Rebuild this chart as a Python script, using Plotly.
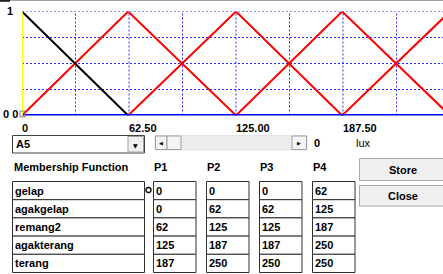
import plotly.graph_objects as go

# ---------------- data ----------------
names = ["gelap", "agakgelap", "remang2", "agakterang", "terang"]
p1 = [0, 0, 62, 125, 187]
p2 = [0, 62, 125, 187, 250]
p3 = [0, 62, 125, 187, 250]
p4 = [62, 125, 187, 250, 250]
line_colors = ["#000000", "#ff0000", "#ff0000", "#ff0000", "#ff0000"]
x_tick_vals = [0, 62.5, 125, 187.5, 250]
x_tick_text = ["0", "62.50", "125.00", "187.50", "250.00"]
x_grid_vals = [0, 31.25, 62.5, 93.75, 125, 156.25, 187.5, 218.75, 250]
y_grid_vals = [0.25, 0.5, 0.75, 1.0]
combo_value = "A5"
slider_value = "0"
unit_label = "lux"
col_headers = ["P1", "P2", "P3", "P4"]

W, H = 443, 274
FONT = "Liberation Sans"


def px(x):
    return x / W


def py(y):
    return 1 - y / H


fig = go.Figure()

# membership functions (red first, black on top)
order = [1, 2, 3, 4, 0]
for i in order:
    fig.add_trace(go.Scatter(
        x=[p1[i], p2[i], p3[i], p4[i]], y=[0, 1, 1, 0],
        mode="lines", line=dict(color=line_colors[i], width=2),
        name=names[i], showlegend=False, hoverinfo="skip"))

shapes = []
annotations = []

GRID = dict(color="#2828ff", width=1, dash="2px,2px")
for gx in x_grid_vals:
    shapes.append(dict(type="line", xref="x", yref="y", x0=gx, x1=gx, y0=0, y1=1,
                       line=GRID, layer="below"))
for gy in y_grid_vals:
    shapes.append(dict(type="line", xref="paper", yref="y", x0=px(22), x1=1, y0=gy, y1=gy,
                       line=GRID, layer="below"))

# axis decorations
shapes.append(dict(type="line", xref="paper", yref="y", x0=px(22), x1=1, y0=0, y1=0,
                   line=dict(color="#0000ff", width=3), layer="above"))
shapes.append(dict(type="line", xref="x", yref="y", x0=0, x1=0, y0=0, y1=1,
                   line=dict(color="#ffff00", width=2), layer="above"))
shapes.append(dict(type="rect", xref="paper", yref="paper", x0=px(20), x1=px(25),
                   y0=py(117), y1=py(111), line=dict(color="#808080", width=1),
                   fillcolor="rgba(0,0,0,0)", layer="above"))
# top border line of window
shapes.append(dict(type="line", xref="paper", yref="paper", x0=0, x1=1, y0=py(0.5), y1=py(0.5),
                   line=dict(color="#a0a0a0", width=1)))
shapes.append(dict(type="line", xref="paper", yref="paper", x0=0, x1=px(10), y0=py(0.8), y1=py(0.8),
                   line=dict(color="#202020", width=2)))

bold = dict(family=FONT, size=11, color="#000000")

# x tick labels (left aligned at tick)
for v, t in zip(x_tick_vals, x_tick_text):
    xs = -12 if v == 250 else 0
    annotations.append(dict(x=v, y=py(127.5), xref="x", yref="paper", text="<b>%s</b>" % t,
                            showarrow=False, xanchor="left", yanchor="middle", xshift=xs - 2,
                            font=bold))
# y labels
annotations.append(dict(x=px(15), y=1, xref="paper", yref="y", text="<b>1</b>", showarrow=False,
                        xanchor="right", yanchor="middle", font=bold))
annotations.append(dict(x=px(19.5), y=0, xref="paper", yref="y", text="<b>0 0</b>", showarrow=False,
                        xanchor="right", yanchor="middle", yshift=2, font=bold))

# combobox
shapes.append(dict(type="rect", xref="paper", yref="paper", x0=px(12.5), x1=px(144.5),
                   y0=py(153), y1=py(135.5), line=dict(color="#404040", width=1), fillcolor="white"))
shapes.append(dict(type="rect", xref="paper", yref="paper", x0=px(128), x1=px(143.5),
                   y0=py(152), y1=py(136.5), line=dict(color="#a0a0a0", width=1), fillcolor="#f0f0f0"))
annotations.append(dict(x=px(135.8), y=py(145), xref="paper", yref="paper", text="▼",
                        showarrow=False, xanchor="center", yanchor="middle",
                        font=dict(family="DejaVu Sans", size=6, color="black")))
annotations.append(dict(x=px(14), y=py(144), xref="paper", yref="paper", text="<b>%s</b>" % combo_value,
                        showarrow=False, xanchor="left", yanchor="middle", font=bold))

# scrollbar
shapes.append(dict(type="rect", xref="paper", yref="paper", x0=px(155), x1=px(307),
                   y0=py(150), y1=py(135.5), line=dict(color="#e4e4e4", width=1), fillcolor="#ececec"))
shapes.append(dict(type="rect", xref="paper", yref="paper", x0=px(155.5), x1=px(167),
                   y0=py(149.5), y1=py(136), line=dict(color="#a0a0a0", width=1), fillcolor="#f4f4f4"))
shapes.append(dict(type="rect", xref="paper", yref="paper", x0=px(167), x1=px(181),
                   y0=py(149.5), y1=py(136), line=dict(color="#a0a0a0", width=1), fillcolor="#f4f4f4"))
shapes.append(dict(type="rect", xref="paper", yref="paper", x0=px(292), x1=px(306.5),
                   y0=py(149.5), y1=py(136), line=dict(color="#a0a0a0", width=1), fillcolor="#f4f4f4"))
annotations.append(dict(x=px(161.3), y=py(143), xref="paper", yref="paper", text="◀",
                        showarrow=False, xanchor="center", yanchor="middle",
                        font=dict(family="DejaVu Sans", size=5, color="black")))
annotations.append(dict(x=px(299.3), y=py(143), xref="paper", yref="paper", text="▶",
                        showarrow=False, xanchor="center", yanchor="middle",
                        font=dict(family="DejaVu Sans", size=5, color="black")))
annotations.append(dict(x=px(312), y=py(143), xref="paper", yref="paper", text="<b>%s</b>" % slider_value,
                        showarrow=False, xanchor="left", yanchor="middle", font=bold))
annotations.append(dict(x=px(354), y=py(143), xref="paper", yref="paper", text=unit_label,
                        showarrow=False, xanchor="left", yanchor="middle",
                        font=dict(family=FONT, size=11, color="black")))

# headers
annotations.append(dict(x=px(12), y=py(167), xref="paper", yref="paper", text="<b>Membership Function</b>",
                        showarrow=False, xanchor="left", yanchor="middle", font=bold))
col_x = [153, 206, 259, 312]
col_w = 43
for cx, h in zip(col_x, col_headers):
    annotations.append(dict(x=px(cx - 1), y=py(167), xref="paper", yref="paper", text="<b>%s</b>" % h,
                            showarrow=False, xanchor="left", yanchor="middle", font=bold))

# buttons
for label, top, bot in [("Store", 158.5, 180.5), ("Close", 185.5, 206)]:
    shapes.append(dict(type="rect", xref="paper", yref="paper", x0=px(359.5), x1=px(444),
                       y0=py(bot), y1=py(top), line=dict(color="#a8a8a8", width=1), fillcolor="#f0f0f0"))
    annotations.append(dict(x=px(403), y=py((top + bot) / 2), xref="paper", yref="paper",
                            text="<b>%s</b>" % label, showarrow=False, xanchor="center",
                            yanchor="middle", font=bold))

# table rows
row_top = 181.5
row_h = 18.2
cols = [p1, p2, p3, p4]
for r, nm in enumerate(names):
    t = row_top + r * row_h
    b = t + row_h
    shapes.append(dict(type="rect", xref="paper", yref="paper", x0=px(12.5), x1=px(144.5),
                       y0=py(b), y1=py(t), line=dict(color="#303030", width=1), fillcolor="white"))
    annotations.append(dict(x=px(13), y=py((t + b) / 2), xref="paper", yref="paper",
                            text="<b>%s</b>" % nm, showarrow=False, xanchor="left", yanchor="middle",
                            font=bold))
    for cx, col in zip(col_x, cols):
        shapes.append(dict(type="rect", xref="paper", yref="paper", x0=px(cx + 0.5), x1=px(cx + col_w),
                           y0=py(b), y1=py(t), line=dict(color="#303030", width=1), fillcolor="white"))
        annotations.append(dict(x=px(cx + 1), y=py((t + b) / 2), xref="paper", yref="paper",
                                text="<b>%s</b>" % col[r], showarrow=False, xanchor="left",
                                yanchor="middle", font=bold))

# small circle marker near first P1 cell
shapes.append(dict(type="circle", xref="paper", yref="paper", x0=px(146), x1=px(151),
                   y0=py(192.5), y1=py(187.5), line=dict(color="black", width=1.3)))

x_max = 250 * (W - 22) / (450 - 22)
fig.update_layout(
    width=W, height=H, margin=dict(l=0, r=0, t=0, b=0),
    paper_bgcolor="white", plot_bgcolor="white",
    xaxis=dict(domain=[px(22), 1], range=[0, x_max],
               showgrid=False, showticklabels=False, ticks="",
               zeroline=False, showline=False, fixedrange=True),
    yaxis=dict(domain=[py(115.5), py(11.5)], range=[0, 1],
               showgrid=False, showticklabels=False, ticks="",
               zeroline=False, showline=False, fixedrange=True),
    shapes=shapes, annotations=annotations, showlegend=False,
)
fig.write_html("out.html", config={"displayModeBar": False},
               post_script="document.body.style.margin='0';document.body.style.overflow='hidden';")
